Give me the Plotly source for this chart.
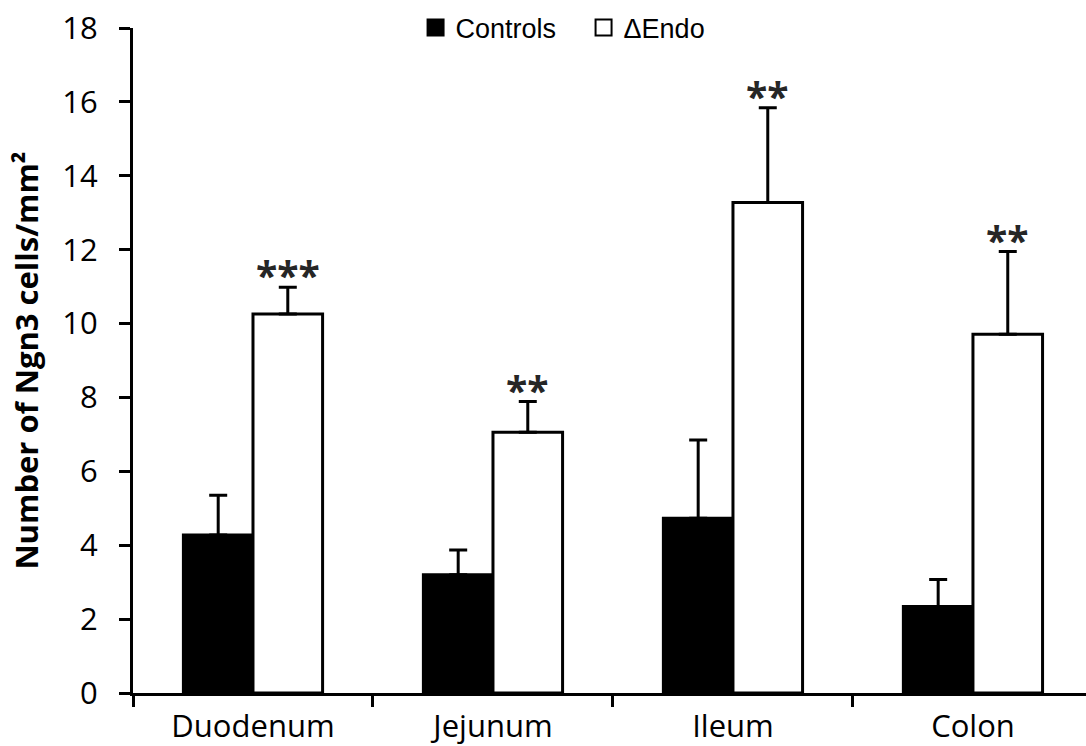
import plotly.graph_objects as go

categories = ["Duodenum", "Jejunum", "Ileum", "Colon"]
controls = [4.28, 3.20, 4.73, 2.34]
controls_err = [1.07, 0.67, 2.12, 0.73]
endo = [10.26, 7.06, 13.28, 9.71]
endo_err = [0.72, 0.83, 2.56, 2.24]
signif = ["***", "**", "**", "**"]
y_ticks = [0, 2, 4, 6, 8, 10, 12, 14, 16, 18]

fig = go.Figure()
fig.add_trace(go.Bar(
    x=categories, y=controls, name="Controls",
    marker=dict(color="black", line=dict(color="black", width=3)),
    error_y=dict(type="data", symmetric=False, array=controls_err,
                 arrayminus=[0] * len(controls_err),
                 color="black", thickness=3, width=9),
    showlegend=False,
))
fig.add_trace(go.Bar(
    x=categories, y=endo, name="ΔEndo",
    marker=dict(color="white", line=dict(color="black", width=3)),
    error_y=dict(type="data", symmetric=False, array=endo_err,
                 arrayminus=[0] * len(endo_err),
                 color="black", thickness=3, width=9),
    showlegend=False,
))
# legend entries
fig.add_trace(go.Scatter(x=[None], y=[None], mode="markers", name="Controls",
                         marker=dict(symbol="square", size=16, color="black",
                                     line=dict(color="black", width=2))))
fig.add_trace(go.Scatter(x=[None], y=[None], mode="markers", name="ΔEndo",
                         marker=dict(symbol="square", size=16, color="white",
                                     line=dict(color="black", width=2))))

for cat, v, e, s in zip(categories, endo, endo_err, signif):
    fig.add_annotation(x=cat, y=v + e, text="<b>" + s + "</b>", showarrow=False,
                       xref="x", yref="y", xshift=35, yshift=-16,
                       yanchor="bottom",
                       font=dict(family="Open Sans", size=39, color="#262626"))

fig.update_layout(
    width=1086, height=746,
    margin=dict(l=133, r=0, t=28, b=53, autoexpand=False),
    plot_bgcolor="white", paper_bgcolor="white",
    barmode="group", bargap=0.42, bargroupgap=0,
    legend=dict(orientation="h", x=0.2965, y=1.0, xanchor="left", yanchor="middle",
                font=dict(family="Liberation Sans, Arial", size=27, color="black"),
                itemsizing="trace", entrywidth=123, entrywidthmode="pixels",
                bgcolor="rgba(0,0,0,0)"),
    xaxis=dict(
        type="category", range=[-0.5, 3.471],
        showline=True, linecolor="black", linewidth=3,
        ticks="outside", tickson="boundaries", ticklen=11, tickwidth=3,
        tickcolor="black", ticklabelstandoff=4,
        tickfont=dict(family="Open Sans", size=31, color="black"),
        showgrid=False, zeroline=False,
    ),
    yaxis=dict(
        range=[0, 18], tickvals=y_ticks,
        showline=True, linecolor="black", linewidth=3,
        ticks="outside", ticklen=11, tickwidth=3, tickcolor="black",
        ticklabelstandoff=15, ticklabeloverflow="allow",
        tickfont=dict(family="Open Sans", size=31, color="black"),
        showgrid=False, zeroline=False,
        title=dict(text="<b>Number of Ngn3 cells/mm²</b>", standoff=15,
                   font=dict(family="Open Sans", size=31, color="black")),
    ),
)

fig.write_html("out.html", config={"displayModeBar": False},
               post_script="document.body.style.margin='0px';")
